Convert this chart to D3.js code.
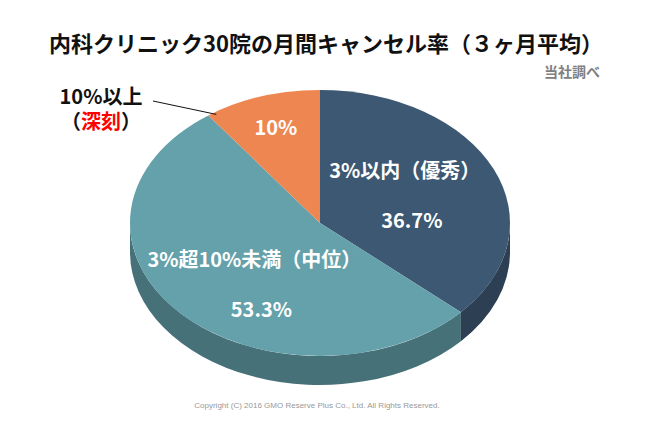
<!DOCTYPE html>
<html>
<head>
<meta charset="utf-8">
<script src="https://cdn.jsdelivr.net/npm/d3@7"></script>
<style>
  body { margin: 0; background: #fff; }
  text { font-family: "Noto Sans CJK JP", "Noto Sans", sans-serif; }
</style>
</head>
<body>
<div id="chart"></div>
<script>
// data
const categories = ['3%以内（優秀）', '3%超10%未満（中位）', '10%以上'];
const shareValues = [36.7, 53.3, 10];
const valueLabels = ['36.7%', '53.3%', '10%'];
const topColors = ['#3d5872', '#65a1ab', '#ee8651'];
const sideColors = ['#2c3f53', '#477178', '#b7633b'];

const width = 659, height = 439;
const cx = 320, cy = 223, rx = 190, ry = 133, depth = 29;

const svg = d3.select('#chart').append('svg')
    .attr('width', width)
    .attr('height', height);

// angles from the pie layout, 0 = 12 o'clock, clockwise
const arcs = d3.pie().sort(null).value(d => d)(shareValues);

function pt(a, dy = 0) {
    return [cx + rx * Math.sin(a), cy - ry * Math.cos(a) + dy];
}

function topPath(d) {
    const p0 = pt(d.startAngle), p1 = pt(d.endAngle);
    const large = d.endAngle - d.startAngle > Math.PI ? 1 : 0;
    return `M${cx},${cy}L${p0}A${rx},${ry} 0 ${large} 1 ${p1}Z`;
}

function sidePath(d) {
    const s0 = Math.max(d.startAngle, Math.PI / 2);
    const s1 = Math.min(d.endAngle, Math.PI * 1.5);
    if (s1 <= s0) return null;
    const a = pt(s0), b = pt(s1), c = pt(s1, depth), e = pt(s0, depth);
    return `M${a}A${rx},${ry} 0 0 1 ${b}L${c}A${rx},${ry} 0 0 0 ${e}Z`;
}

// side walls
svg.append('g').selectAll('path')
    .data(arcs.filter(d => sidePath(d)))
    .join('path')
    .attr('d', sidePath)
    .attr('fill', d => sideColors[d.index]);

// top faces
svg.append('g').selectAll('path')
    .data(arcs)
    .join('path')
    .attr('d', topPath)
    .attr('fill', d => topColors[d.index]);

// inside labels
const labelFrac = [0.5, 0.45, 0.75];
const labelShift = [0, 22, 0];
arcs.forEach((d, i) => {
    const mid = (d.startAngle + d.endAngle) / 2;
    const f = labelFrac[i];
    const x = cx + rx * f * Math.sin(mid);
    const y = cy - ry * f * Math.cos(mid) + labelShift[i];
    const g = svg.append('g').attr('fill', '#fff').attr('font-weight', 700)
        .attr('font-size', 20).attr('text-anchor', 'middle');
    if (i === 2) {
        g.append('text').attr('x', x).attr('y', y + 7).text(valueLabels[i]);
    } else {
        g.append('text').attr('x', x - 2).attr('y', y - 18).text(categories[i]);
        g.append('text').attr('x', x + 5).attr('y', y + 32).text(valueLabels[i]);
    }
});

// outside label for 10%
const orange = arcs[2];
const edge = pt(orange.startAngle);
svg.append('line')
    .attr('x1', 153).attr('y1', 101)
    .attr('x2', edge[0] + 8).attr('y2', edge[1] - 1)
    .attr('stroke', '#111').attr('stroke-width', 1);

svg.append('text')
    .attr('x', 101).attr('y', 104)
    .attr('text-anchor', 'middle')
    .attr('font-size', 20).attr('font-weight', 700).attr('fill', '#111')
    .text(categories[2]);

const sub = svg.append('text')
    .attr('x', 101).attr('y', 129)
    .attr('text-anchor', 'middle')
    .attr('font-size', 20).attr('font-weight', 700).attr('fill', '#111');
sub.append('tspan').text('（');
sub.append('tspan').attr('fill', '#ff0000').text('深刻');
sub.append('tspan').text('）');

// title
svg.append('text')
    .attr('x', 326).attr('y', 52)
    .attr('text-anchor', 'middle')
    .attr('font-size', 22).attr('font-weight', 700).attr('fill', '#111')
    .text('内科クリニック30院の月間キャンセル率（３ヶ月平均）');

svg.append('text')
    .attr('x', 600).attr('y', 77)
    .attr('text-anchor', 'end')
    .attr('font-size', 14).attr('font-weight', 700).attr('fill', '#808080')
    .text('当社調べ');

svg.append('text')
    .attr('x', 317).attr('y', 408)
    .attr('text-anchor', 'middle')
    .attr('font-size', 8)
    .style('font-family', '"Liberation Sans", Arial, sans-serif')
    .attr('fill', '#999')
    .text('Copyright (C) 2016 GMO Reserve Plus Co., Ltd. All Rights Reserved.');
</script>
</body>
</html>
